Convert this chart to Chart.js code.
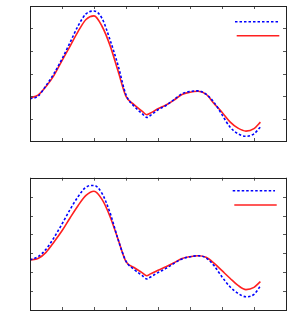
<!DOCTYPE html>
<html><head><meta charset="utf-8">
<script src="https://cdn.jsdelivr.net/npm/chart.js@4/dist/chart.umd.min.js"></script>
<style>
html,body{margin:0;padding:0;background:#fff;width:288px;height:328px;overflow:hidden}
.c{position:absolute;left:0;width:288px}
</style></head><body>
<div class="c" style="top:0;height:164px"><canvas id="c1" width="288" height="164"></canvas></div>
<div class="c" style="top:164px;height:164px"><canvas id="c2" width="288" height="164"></canvas></div>
<script>
const xs = [0,0.25,0.5,0.75,1,1.25,1.5,1.75,2,2.25,2.5,2.75,3,3.25,3.5,3.65,3.75,4,4.25,4.5,4.75,5,5.25,5.5,5.75,6,6.25,6.5,6.75,7,7.2];
const topBlue = [1.88,1.99,2.46,3.0,3.65,4.37,5.11,5.65,5.78,5.45,4.5,3.37,2.05,1.55,1.22,1.05,1.12,1.39,1.58,1.84,2.1,2.2,2.23,2.08,1.72,1.17,0.62,0.32,0.21,0.32,0.62];
const topRed  = [1.92,2.04,2.42,2.92,3.57,4.21,4.86,5.40,5.56,5.10,4.25,3.12,1.98,1.62,1.33,1.17,1.23,1.43,1.60,1.82,2.07,2.17,2.21,2.08,1.67,1.28,0.85,0.57,0.44,0.55,0.84];
const botBlue = [2.65,2.82,3.21,3.83,4.55,5.31,5.99,6.5,6.59,6.17,5.15,3.75,2.58,2.15,1.83,1.64,1.73,1.98,2.2,2.47,2.7,2.82,2.87,2.76,2.35,1.75,1.23,0.88,0.7,0.83,1.27];
const botRed  = [2.65,2.72,3.05,3.6,4.19,4.87,5.52,6.06,6.28,5.85,4.95,3.75,2.56,2.25,1.98,1.81,1.9,2.1,2.29,2.5,2.72,2.82,2.87,2.79,2.48,2.08,1.68,1.3,1.08,1.2,1.5];
const xTicks = [0,1,2,3,4,5,6,7,8];
const yTicksTop = [0,1,2,3,4,5,6];
const yTicksBot = [0,1,2,3,4,5,6,7];

const framePlugin = {
  id:'frame',
  afterDatasetsDraw(chart, args, opts){
    const ctx = chart.ctx, a = chart.chartArea;
    const xs_ = chart.scales.x, ys_ = chart.scales.y;
    ctx.save();
    ctx.strokeStyle = '#555'; ctx.lineWidth = 1;
    const tl = 3;
    ctx.beginPath();
    opts.xt.forEach(v=>{
      const p = Math.round(xs_.getPixelForValue(v))+0.5;
      ctx.moveTo(p,a.bottom); ctx.lineTo(p,a.bottom-tl);
      ctx.moveTo(p,a.top); ctx.lineTo(p,a.top+tl);
    });
    opts.yt.forEach(v=>{
      const p = Math.round(ys_.getPixelForValue(v))+0.5;
      ctx.moveTo(a.left,p); ctx.lineTo(a.left+tl,p);
      ctx.moveTo(a.right,p); ctx.lineTo(a.right-tl,p);
    });
    ctx.stroke();
    ctx.strokeStyle = '#222'; ctx.lineWidth = 1;
    ctx.strokeRect(Math.round(a.left)+0.5, Math.round(a.top)+0.5, Math.round(a.right-a.left), Math.round(a.bottom-a.top));
    // legend samples
    ctx.lineWidth = 1.6;
    ctx.strokeStyle = '#0000ff'; ctx.setLineDash([2.5,2]);
    ctx.beginPath(); ctx.moveTo(a.right-opts.b[0], a.top+opts.b[2]); ctx.lineTo(a.right-opts.b[1], a.top+opts.b[2]); ctx.stroke();
    ctx.strokeStyle = '#ff2020'; ctx.setLineDash([]);
    ctx.beginPath(); ctx.moveTo(a.right-opts.r[0], a.top+opts.r[2]); ctx.lineTo(a.right-opts.r[1], a.top+opts.r[2]); ctx.stroke();
    ctx.restore();
  }
};

function make(id, blue, red, ymax, yt, pad, leg){
  return new Chart(document.getElementById(id), {
    type:'line',
    data:{ labels: xs, datasets:[
      {data: xs.map((x,i)=>({x, y: blue[i]})), borderColor:'#0000ff', borderWidth:1.6, borderDash:[2.5,2], pointRadius:0, cubicInterpolationMode:'monotone', fill:false},
      {data: xs.map((x,i)=>({x, y: red[i]})), borderColor:'#ff2020', borderWidth:1.6, pointRadius:0, cubicInterpolationMode:'monotone', fill:false}
    ]},
    options:{
      responsive:false, animation:false, devicePixelRatio:1,
      layout:{padding:pad},
      plugins:{legend:{display:false}, tooltip:{enabled:false}, frame:{xt:xTicks, yt:yt, b:leg.b, r:leg.r}},
      scales:{
        x:{type:'linear', min:0, max:8, display:false},
        y:{type:'linear', min:0, max:ymax, display:false}
      }
    },
    plugins:[framePlugin]
  });
}
make('c1', topBlue, topRed, 6, yTicksTop, {left:30, right:2, top:6, bottom:23}, {b:[51,8,15.7], r:[49.3,6.7,29.7]});
make('c2', botBlue, botRed, 7, yTicksBot, {left:30, right:2, top:13.7, bottom:18}, {b:[53.3,11,13], r:[51.7,9.3,27.3]});
</script>
</body></html>
